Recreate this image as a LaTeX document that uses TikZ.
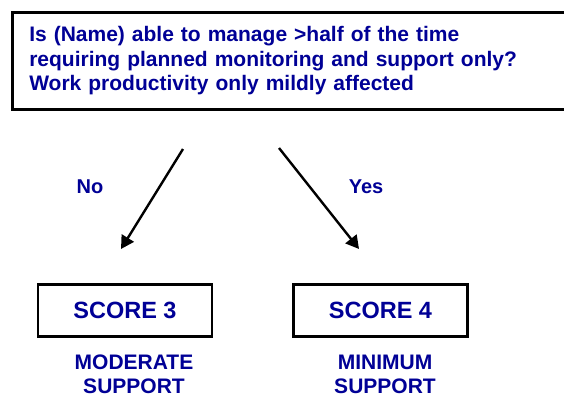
\documentclass[tikz,border=0pt]{standalone}
\usepackage{fontspec}
\setmainfont{Liberation Sans}
\usetikzlibrary{arrows.meta}
\definecolor{txtblue}{RGB}{0,0,150}
\tikzset{
  qbox/.style={draw=black, line width=2.6pt, anchor=north west, minimum width=560pt, minimum height=97pt,
    text width=530pt, align=left, inner xsep=17pt, inner ysep=0pt, text=txtblue,
    font=\fontsize{21}{24.5}\selectfont\bfseries},
  scorebox/.style={draw=black, line width=2.2pt, minimum width=174pt, minimum height=52pt, inner sep=0pt,
    text=txtblue, font=\fontsize{23.5}{26}\selectfont\bfseries},
  lbl/.style={text=txtblue, font=\fontsize{20}{24}\selectfont\bfseries, inner sep=0pt, anchor=base},
  sublbl/.style={text=txtblue, font=\fontsize{21}{24}\selectfont\bfseries, inner sep=0pt, align=center, anchor=north},
  arr/.style={line width=2.4pt, -{Triangle[length=13pt,width=14pt]}}
}
\begin{document}
\begin{tikzpicture}[x=1pt,y=-1pt]
\useasboundingbox[fill=white] (0,0) rectangle (564,397);
\node[qbox] (q) at (11,11) {Is (Name) able to manage >half of the time\\requiring planned monitoring and support only?\\Work productivity only mildly affected};
\node[scorebox] (s3) at (125,310.5) {SCORE 3};
\node[scorebox] (s4) at (380.5,310.5) {SCORE 4};
\node[sublbl] (m3) at (134,355) {MODERATE\\SUPPORT};
\node[sublbl] (m4) at (385,355) {MINIMUM\\SUPPORT};
\node[lbl] (no) at (90,193) {No};
\node[lbl] (yes) at (366,193) {Yes};
\coordinate (a1s) at (183,149);
\coordinate (a1e) at (121,249);
\coordinate (a2s) at (279,148);
\coordinate (a2e) at (359,249);
\draw[arr] (a1s) -- (a1e);
\draw[arr] (a2s) -- (a2e);
\end{tikzpicture}
\end{document}
